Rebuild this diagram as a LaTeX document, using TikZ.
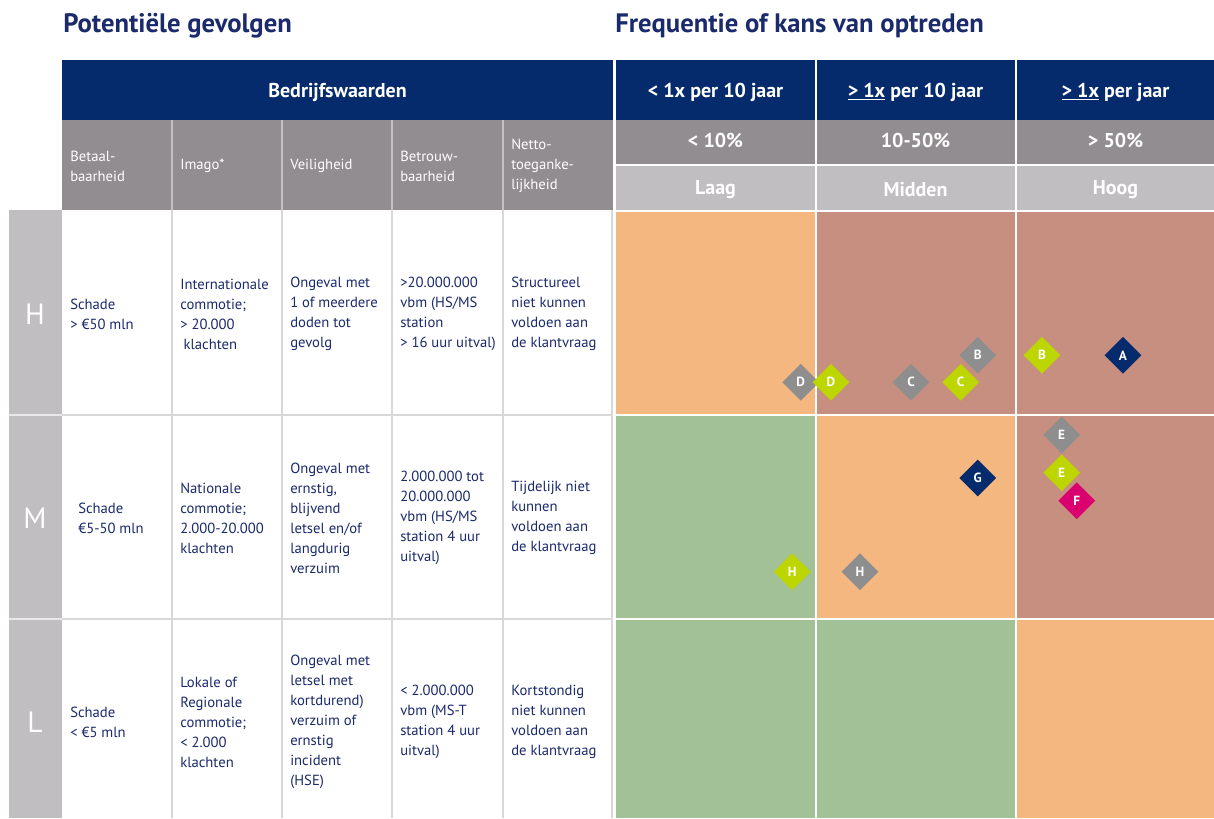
\documentclass[tikz,border=0pt]{standalone}
\usepackage{fontspec}
\setmainfont{PT Sans}
\usetikzlibrary{shapes.geometric}
\definecolor{navy}{HTML}{062B6C}
\definecolor{hgray}{HTML}{928D90}
\definecolor{lgray}{HTML}{C1BEC1}
\definecolor{sepgray}{HTML}{D9D8D9}
\definecolor{morange}{HTML}{F4B780}
\definecolor{mbrown}{HTML}{C68F7F}
\definecolor{mgreen}{HTML}{A2C196}
\definecolor{tnavy}{HTML}{1B2A6B}
\definecolor{mkgray}{HTML}{8E8E8E}
\definecolor{mklime}{HTML}{BDD600}
\definecolor{mkmag}{HTML}{DA0070}
\tikzset{
  titletext/.style={anchor=base west, text=tnavy, font=\fontsize{20}{23}\selectfont\bfseries, inner sep=0pt},
  headtext/.style={text=white, font=\fontsize{15}{17}\selectfont\bfseries, inner sep=0pt},
  colhead/.style={anchor=west, align=left, text=white, font=\fontsize{11}{15}\selectfont, inner sep=0pt},
  celltext/.style={anchor=west, align=left, text=tnavy, font=\fontsize{11}{15}\selectfont, inner sep=0pt},
  rowletter/.style={text=white, font=\fontsize{22}{24}\selectfont, inner sep=0pt},
  marker/.style={diamond, fill=#1, minimum width=27.75pt, minimum height=27.75pt, inner sep=0pt,
    text=white, font=\fontsize{10}{11}\selectfont\bfseries},
  sepline/.style={draw=sepgray, line width=1.1pt},
}
\begin{document}
\begin{tikzpicture}[x=0.75pt,y=-0.75pt]
\useasboundingbox (0,0) rectangle (1214,818);
\fill[white] (0,0) rectangle (1214,818);

% titles
\node[titletext] (title1) at (63,32) {Potentiële gevolgen};
\node[titletext] (title2) at (615,32) {Frequentie of kans van optreden};

% header blue row
\fill[navy] (62,59.5) rectangle (613,119.5);
\fill[navy] (616,59.5) rectangle (815,119.5);
\fill[navy] (816.5,59.5) rectangle (1015,119.5);
\fill[navy] (1016.5,59.5) rectangle (1214,119.5);
\node[headtext] (hb) at (337.5,92) {Bedrijfswaarden};
\node[headtext] (hf1) at (715.5,92) {< 1x per 10 jaar};
\node[headtext] (hf2) at (915.5,92) {\underline{> 1x} per 10 jaar};
\node[headtext] (hf3) at (1115.5,92) {\underline{> 1x} per jaar};

% header gray rows
\fill[hgray] (62,119.5) rectangle (613,210);
\foreach \x in {172,282,392,503} \draw[draw=sepgray!70!hgray, line width=1.1pt] (\x,119.5) -- (\x,210);
\fill[hgray] (616,119.5) rectangle (815,164.3);
\fill[hgray] (816.5,119.5) rectangle (1015,164.3);
\fill[hgray] (1016.5,119.5) rectangle (1214,164.3);
\fill[lgray] (616,165.7) rectangle (815,210);
\fill[lgray] (816.5,165.7) rectangle (1015,210);
\fill[lgray] (1016.5,165.7) rectangle (1214,210);
\node[headtext] (p1) at (715.5,140) {< 10\%};
\node[headtext] (p2) at (915.5,140) {10-50\%};
\node[headtext] (p3) at (1115.5,140) {> 50\%};
\node[headtext] (k1) at (715.5,190) {Laag};
\node[headtext] (k2) at (915.5,190) {Midden};
\node[headtext] (k3) at (1115.5,190) {Hoog};

\node[colhead] (c1) at (70,166) {Betaal-\\baarheid};
\node[colhead] (c2) at (180,166) {Imago*};
\node[colhead] (c3) at (290,166) {Veiligheid};
\node[colhead] (c4) at (400,166) {Betrouw-\\baarheid};
\node[colhead] (c5) at (511,166) {Netto-\\toeganke-\\lijkheid};

% left row label column
\fill[lgray] (9,210) rectangle (61.7,818);
\draw[draw=sepgray!60!white, line width=1.4pt] (9,414.7) -- (61.7,414.7);
\draw[draw=sepgray!60!white, line width=1.4pt] (9,618.7) -- (61.7,618.7);
\node[rowletter] (rH) at (35,314) {H};
\node[rowletter] (rM) at (35,518) {M};
\node[rowletter] (rL) at (35,722) {L};

% body grid
\foreach \x in {172,282,392,503} \draw[sepline] (\x,210) -- (\x,818);
\draw[sepline] (612,210) -- (612,818);
\draw[sepline, line width=1.4pt] (61.7,414.7) -- (612,414.7);
\draw[sepline, line width=1.4pt] (61.7,618.7) -- (612,618.7);

% matrix
\fill[morange] (616,211.5) rectangle (815,413.7);
\fill[mbrown] (816.5,211.5) rectangle (1015,413.7);
\fill[mbrown] (1016.5,211.5) rectangle (1214,413.7);
\fill[mgreen] (616,415.7) rectangle (815,617.7);
\fill[morange] (816.5,415.7) rectangle (1015,617.7);
\fill[mbrown] (1016.5,415.7) rectangle (1214,617.7);
\fill[mgreen] (616,619.7) rectangle (815,818);
\fill[mgreen] (816.5,619.7) rectangle (1015,818);
\fill[morange] (1016.5,619.7) rectangle (1214,818);

% row H texts
\node[celltext] (h1) at (70,314) {Schade\\> €50 mln};
\node[celltext] (h2) at (180,314) {Internationale\\commotie;\\> 20.000\\\hspace*{2.5pt}klachten};
\node[celltext] (h3) at (290,314) {Ongeval met\\1 of meerdere\\doden tot\\gevolg};
\node[celltext] (h4) at (400,314) {>20.000.000\\vbm (HS/MS\\station\\> 16 uur uitval)};
\node[celltext] (h5) at (511,314) {Structureel\\niet kunnen\\voldoen aan\\de klantvraag};

% row M texts
\node[celltext] (m1) at (78,518) {Schade\\€5-50 mln};
\node[celltext] (m2) at (180,518) {Nationale\\commotie;\\2.000-20.000\\klachten};
\node[celltext] (m3) at (290,518) {Ongeval met\\ernstig,\\blijvend\\letsel en/of\\langdurig\\verzuim};
\node[celltext] (m4) at (400,518) {2.000.000 tot\\20.000.000\\vbm (HS/MS\\station 4 uur\\uitval)};
\node[celltext] (m5) at (511,518) {Tijdelijk niet\\kunnen\\voldoen aan\\de klantvraag};

% row L texts
\node[celltext] (l1) at (70,722) {Schade\\< €5 mln};
\node[celltext] (l2) at (180,722) {Lokale of\\Regionale\\commotie;\\< 2.000\\klachten};
\node[celltext] (l3) at (290,722) {Ongeval met\\letsel met\\kortdurend)\\verzuim of\\ernstig\\incident\\(HSE)};
\node[celltext] (l4) at (400,722) {< 2.000.000\\vbm (MS-T\\station 4 uur\\uitval)};
\node[celltext] (l5) at (511,722) {Kortstondig\\niet kunnen\\voldoen aan\\de klantvraag};

% markers
\node[marker=mkgray] (Dg) at (800.7,382.3) {D};
\node[marker=mkgray] (Cg) at (911,382.3) {C};
\node[marker=mkgray] (Bg) at (977.7,355.3) {B};
\node[marker=mkgray] (Eg) at (1061.7,435) {E};
\node[marker=mkgray] (Hg) at (860,571.7) {H};
\node[marker=mklime] (Dl) at (831,382.3) {D};
\node[marker=mklime] (Cl) at (960.7,382.3) {C};
\node[marker=mklime] (Bl) at (1042,355.3) {B};
\node[marker=mklime] (El) at (1061.7,472.7) {E};
\node[marker=mklime] (Hl) at (792.3,571.7) {H};
\node[marker=navy] (An) at (1123,355.3) {A};
\node[marker=navy] (Gn) at (977.7,478) {G};
\node[marker=mkmag] (Fm) at (1076.7,500.7) {F};
\end{tikzpicture}
\end{document}
